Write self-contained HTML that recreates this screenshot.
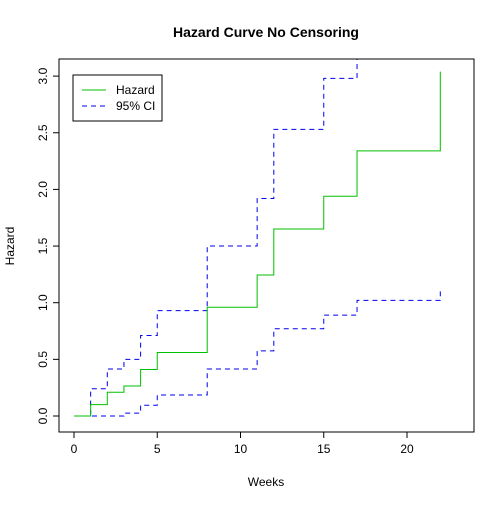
<!DOCTYPE html>
<html><head><meta charset="utf-8"><style>body{margin:0;background:#fff}svg{font-family:"Liberation Sans",sans-serif}</style></head><body>
<svg id="c" width="504" height="504"></svg>
<script>
const times=[0,1,2,3,4,5,8,11,12,15,17,22];
const hazard=[0,0.10,0.21,0.265,0.41,0.56,0.96,1.245,1.65,1.94,2.34,3.04];
const upper=[0,0.24,0.415,0.50,0.71,0.93,1.50,1.92,2.53,2.98,3.4,3.4];
const lower=[0,0,0,0.025,0.095,0.185,0.415,0.575,0.77,0.89,1.02,1.10];
const xTicks=[0,5,10,15,20];
const yTicks=["0.0","0.5","1.0","1.5","2.0","2.5","3.0"];
const L=59,R=474,T=59,B=432;
const X=v=>74+v*16.65, Y=v=>416-v*113.3;
const s=document.getElementById('c');const ns='http://www.w3.org/2000/svg';
function el(t,a,p){const e=document.createElementNS(ns,t);for(const k in a)e.setAttribute(k,a[k]);(p||s).appendChild(e);return e;}
const defs=el('defs',{});const cp=el('clipPath',{id:'pc'},defs);el('rect',{x:L,y:T,width:R-L,height:B-T},cp);
const g=el('g',{'clip-path':'url(#pc)'});
function step(vals,col,dash,name){let d='M'+X(times[0])+','+Y(vals[0]);for(let i=1;i<times.length;i++){d+='H'+X(times[i]);if(i<times.length-1||name==='hazard-line'||name==='lower-ci-line')d+='V'+Y(vals[i]);}
const p=el('path',{d:d,fill:'none',stroke:col,'stroke-width':1,'stroke-dasharray':dash},g);

}
step(upper,'#0000ee','5,4','upper-ci-line');
step(lower,'#0000ee','5,4','lower-ci-line');
step(hazard,'#00c000','none','hazard-line');
const box=el('rect',{x:L,y:T,width:R-L,height:B-T,fill:'none',stroke:'#000'});

xTicks.forEach(v=>{el('line',{x1:X(v),x2:X(v),y1:B,y2:B+6,stroke:'#000'});const t=el('text',{x:X(v),y:B+21,'font-size':12,'text-anchor':'middle'});t.textContent=v;});
yTicks.forEach(v=>{const y=Y(+v);el('line',{x1:L-6,x2:L,y1:y,y2:y,stroke:'#000'});const t=el('text',{x:0,y:0,'font-size':12,'text-anchor':'middle',transform:`translate(${L-12},${y}) rotate(-90)`});t.textContent=v;});
let t=el('text',{x:266,y:37,'font-size':14,'font-weight':'bold','text-anchor':'middle'});t.textContent='Hazard Curve No Censoring';
t=el('text',{x:266,y:486,'font-size':12,'text-anchor':'middle'});t.textContent='Weeks';
t=el('text',{x:0,y:0,'font-size':12,'text-anchor':'middle',transform:'translate(14,246) rotate(-90)'});t.textContent='Hazard';
const lg=el('g',{});
el('rect',{x:73,y:75,width:89,height:46,fill:'#fff',stroke:'#000'},lg);
el('line',{x1:82,x2:106,y1:90,y2:90,stroke:'#00c000','stroke-width':1},lg);
el('line',{x1:82,x2:106,y1:106,y2:106,stroke:'#0000ee','stroke-width':1,'stroke-dasharray':'5,4'},lg);
t=el('text',{x:116,y:94,'font-size':12},lg);t.textContent='Hazard';
t=el('text',{x:116,y:110,'font-size':12},lg);t.textContent='95% CI';
</script></body></html>
